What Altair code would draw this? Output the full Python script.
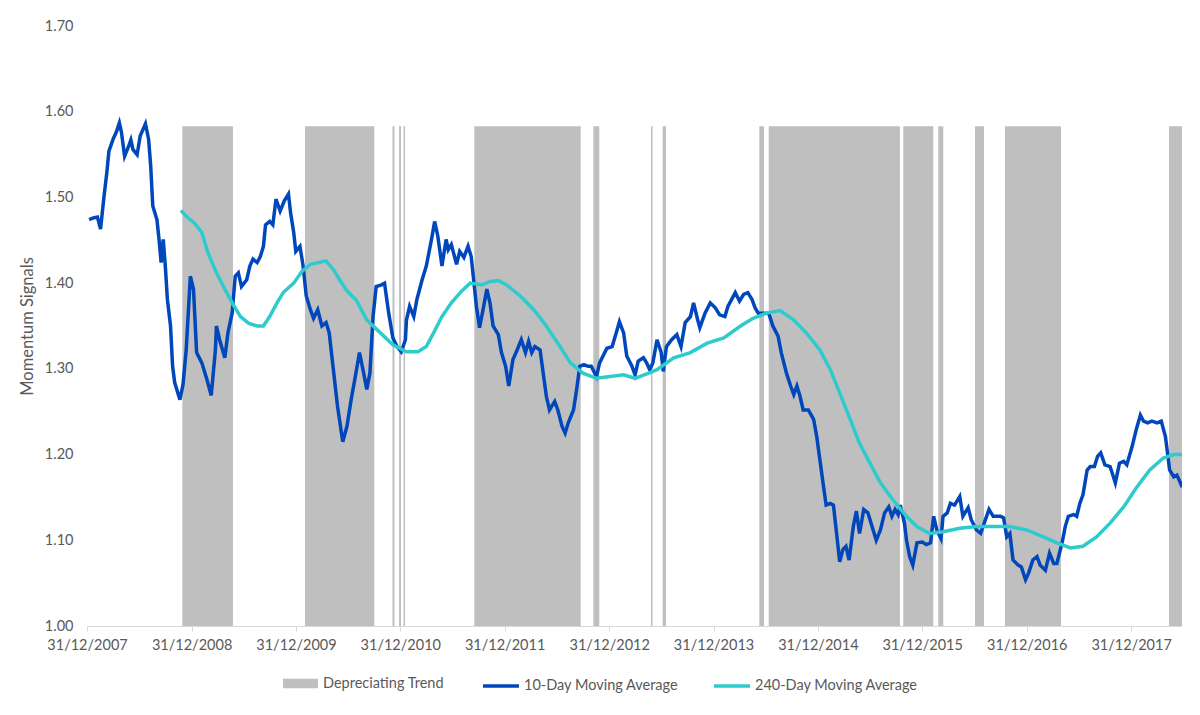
import altair as alt
import pandas as pd

# ---- data (x in decimal years: 2008.0 == 31/12/2007) ----
ma10_t = [2008.02, 2008.06, 2008.10, 2008.13, 2008.16, 2008.19, 2008.21, 2008.25, 2008.28, 2008.31,
          2008.33, 2008.36, 2008.40, 2008.42, 2008.44, 2008.48, 2008.51, 2008.56, 2008.59, 2008.61,
          2008.63, 2008.67, 2008.69, 2008.71, 2008.73, 2008.75, 2008.77, 2008.80, 2008.82, 2008.84,
          2008.89, 2008.92, 2008.95, 2008.99, 2009.02, 2009.05, 2009.10, 2009.15, 2009.19, 2009.23,
          2009.24, 2009.27, 2009.32, 2009.35, 2009.39, 2009.42, 2009.45, 2009.48, 2009.53, 2009.56,
          2009.59, 2009.63, 2009.66, 2009.69, 2009.71, 2009.75, 2009.78, 2009.81, 2009.85, 2009.89,
          2009.93, 2009.95, 2009.98, 2010.00, 2010.04, 2010.07, 2010.10, 2010.14, 2010.17, 2010.21,
          2010.25, 2010.29, 2010.32, 2010.36, 2010.40, 2010.45, 2010.49, 2010.53, 2010.57, 2010.61,
          2010.65, 2010.68, 2010.71, 2010.74, 2010.77, 2010.82, 2010.85, 2010.89, 2010.93, 2010.97,
          2011.01, 2011.05, 2011.06, 2011.09, 2011.13, 2011.16, 2011.21, 2011.25, 2011.30, 2011.33,
          2011.36, 2011.40, 2011.44, 2011.46, 2011.49, 2011.54, 2011.57, 2011.61, 2011.65, 2011.68,
          2011.70, 2011.73, 2011.76, 2011.80, 2011.83, 2011.86, 2011.89, 2011.94, 2011.97, 2012.01,
          2012.04, 2012.08, 2012.12, 2012.16, 2012.20, 2012.23, 2012.26, 2012.29, 2012.34, 2012.37,
          2012.40, 2012.43, 2012.48, 2012.51, 2012.55, 2012.58, 2012.61, 2012.66, 2012.69, 2012.72,
          2012.76, 2012.80, 2012.83, 2012.88, 2012.91, 2012.98, 2013.03, 2013.07, 2013.10, 2013.14,
          2013.17, 2013.22, 2013.25, 2013.28, 2013.33, 2013.36, 2013.39, 2013.42, 2013.46, 2013.50,
          2013.52, 2013.55, 2013.60, 2013.65, 2013.69, 2013.73, 2013.78, 2013.81, 2013.85, 2013.87,
          2013.92, 2013.97, 2014.02, 2014.06, 2014.11, 2014.14, 2014.21, 2014.25, 2014.29, 2014.33,
          2014.37, 2014.40, 2014.43, 2014.48, 2014.53, 2014.57, 2014.62, 2014.65, 2014.70, 2014.74,
          2014.77, 2014.80, 2014.83, 2014.86, 2014.91, 2014.96, 2014.99, 2015.02, 2015.05, 2015.08,
          2015.12, 2015.15, 2015.18, 2015.21, 2015.24, 2015.27, 2015.30, 2015.34, 2015.37, 2015.40,
          2015.44, 2015.48, 2015.52, 2015.56, 2015.60, 2015.64, 2015.68, 2015.71, 2015.74, 2015.77,
          2015.79, 2015.83, 2015.85, 2015.88, 2015.91, 2015.95, 2016.00, 2016.04, 2016.08, 2016.11,
          2016.14, 2016.18, 2016.20, 2016.24, 2016.27, 2016.31, 2016.36, 2016.39, 2016.44, 2016.47,
          2016.52, 2016.56, 2016.60, 2016.64, 2016.68, 2016.75, 2016.78, 2016.81, 2016.84, 2016.87,
          2016.92, 2016.95, 2016.99, 2017.02, 2017.06, 2017.10, 2017.13, 2017.18, 2017.22, 2017.26,
          2017.29, 2017.34, 2017.37, 2017.40, 2017.45, 2017.48, 2017.51, 2017.54, 2017.58, 2017.61,
          2017.65, 2017.68, 2017.71, 2017.75, 2017.80, 2017.85, 2017.89, 2017.93, 2017.96, 2018.01,
          2018.05, 2018.09, 2018.12, 2018.16, 2018.20, 2018.25, 2018.29, 2018.33, 2018.35, 2018.37,
          2018.41, 2018.44, 2018.47, 2018.49]
ma10_v = [1.474, 1.476, 1.477, 1.463, 1.498, 1.529, 1.554, 1.568, 1.576, 1.587,
          1.576, 1.548, 1.560, 1.567, 1.556, 1.550, 1.572, 1.586, 1.568, 1.537,
          1.490, 1.474, 1.451, 1.424, 1.451, 1.420, 1.381, 1.350, 1.303, 1.284,
          1.264, 1.282, 1.322, 1.408, 1.393, 1.319, 1.307, 1.287, 1.269, 1.322,
          1.350, 1.334, 1.313, 1.342, 1.365, 1.408, 1.412, 1.396, 1.404, 1.420,
          1.428, 1.424, 1.431, 1.443, 1.468, 1.472, 1.468, 1.498, 1.484, 1.496,
          1.504, 1.482, 1.459, 1.437, 1.443, 1.420, 1.385, 1.369, 1.359, 1.369,
          1.350, 1.354, 1.342, 1.299, 1.256, 1.215, 1.233, 1.264, 1.291, 1.319,
          1.295, 1.276, 1.295, 1.361, 1.396, 1.398, 1.400, 1.365, 1.336, 1.326,
          1.320, 1.334, 1.357, 1.373, 1.361, 1.381, 1.404, 1.420, 1.451, 1.472,
          1.455, 1.420, 1.451, 1.439, 1.445, 1.422, 1.437, 1.430, 1.443, 1.431,
          1.408, 1.373, 1.348, 1.373, 1.393, 1.377, 1.350, 1.340, 1.319, 1.303,
          1.280, 1.311, 1.322, 1.334, 1.319, 1.332, 1.319, 1.326, 1.322, 1.295,
          1.268, 1.252, 1.262, 1.252, 1.233, 1.225, 1.237, 1.252, 1.276, 1.303,
          1.305, 1.303, 1.303, 1.291, 1.307, 1.324, 1.326, 1.342, 1.355, 1.342,
          1.315, 1.303, 1.293, 1.309, 1.313, 1.307, 1.299, 1.307, 1.334, 1.319,
          1.297, 1.326, 1.334, 1.340, 1.326, 1.354, 1.361, 1.377, 1.357, 1.348,
          1.365, 1.377, 1.371, 1.363, 1.361, 1.373, 1.389, 1.379, 1.387, 1.389,
          1.381, 1.371, 1.365, 1.365, 1.365, 1.350, 1.338, 1.319, 1.295, 1.280,
          1.270, 1.280, 1.268, 1.252, 1.252, 1.241, 1.221, 1.194, 1.167, 1.141,
          1.143, 1.141, 1.108, 1.075, 1.089, 1.093, 1.077, 1.116, 1.134, 1.108,
          1.136, 1.132, 1.116, 1.100, 1.112, 1.132, 1.139, 1.128, 1.136, 1.130,
          1.141, 1.120, 1.100, 1.081, 1.071, 1.097, 1.098, 1.095, 1.097, 1.128,
          1.112, 1.102, 1.128, 1.132, 1.143, 1.141, 1.151, 1.128, 1.138, 1.124,
          1.112, 1.108, 1.122, 1.136, 1.128, 1.128, 1.126, 1.104, 1.108, 1.077,
          1.071, 1.069, 1.054, 1.062, 1.077, 1.081, 1.071, 1.065, 1.085, 1.073,
          1.073, 1.097, 1.116, 1.128, 1.130, 1.128, 1.143, 1.153, 1.182, 1.186,
          1.186, 1.198, 1.202, 1.188, 1.186, 1.167, 1.190, 1.192, 1.188, 1.209,
          1.229, 1.246, 1.239, 1.237, 1.239, 1.237, 1.239, 1.221, 1.202, 1.182,
          1.174, 1.176, 1.168, 1.162]

ma240_t = [2008.90, 2008.95, 2009.03, 2009.10, 2009.16, 2009.24, 2009.32, 2009.40, 2009.47, 2009.55,
           2009.63, 2009.69, 2009.75, 2009.82, 2009.88, 2009.98, 2010.06, 2010.14, 2010.22, 2010.29,
           2010.36, 2010.42, 2010.49, 2010.58, 2010.68, 2010.81, 2010.93, 2011.06, 2011.17, 2011.25,
           2011.32, 2011.40, 2011.49, 2011.59, 2011.67, 2011.78, 2011.86, 2011.94, 2012.02, 2012.15,
           2012.28, 2012.40, 2012.53, 2012.63, 2012.75, 2012.88, 2013.01, 2013.14, 2013.25, 2013.38,
           2013.46, 2013.62, 2013.78, 2013.94, 2014.10, 2014.26, 2014.38, 2014.51, 2014.64, 2014.77,
           2014.89, 2015.02, 2015.12, 2015.21, 2015.31, 2015.40, 2015.50, 2015.60, 2015.72, 2015.85,
           2015.95, 2016.07, 2016.20, 2016.36, 2016.52, 2016.68, 2016.84, 2017.00, 2017.16, 2017.29,
           2017.42, 2017.54, 2017.67, 2017.80, 2017.93, 2018.05, 2018.18, 2018.31, 2018.41, 2018.49]
ma240_v = [1.485, 1.478, 1.470, 1.459, 1.435, 1.412, 1.393, 1.375, 1.361, 1.353,
           1.350, 1.350, 1.361, 1.377, 1.389, 1.400, 1.414, 1.422, 1.424, 1.426,
           1.416, 1.404, 1.391, 1.380, 1.357, 1.342, 1.328, 1.320, 1.320, 1.326,
           1.342, 1.361, 1.377, 1.391, 1.400, 1.398, 1.402, 1.403, 1.398, 1.385,
           1.369, 1.350, 1.326, 1.307, 1.295, 1.289, 1.291, 1.293, 1.289, 1.295,
           1.299, 1.313, 1.319, 1.330, 1.336, 1.350, 1.359, 1.365, 1.368, 1.357,
           1.342, 1.322, 1.299, 1.272, 1.241, 1.213, 1.190, 1.167, 1.147, 1.128,
           1.116, 1.108, 1.110, 1.114, 1.116, 1.116, 1.116, 1.112, 1.104, 1.097,
           1.091, 1.093, 1.104, 1.120, 1.139, 1.161, 1.182, 1.196, 1.200, 1.200]

band_start = [2008.913, 2010.088, 2010.926, 2010.989, 2011.032, 2011.710, 2012.850, 2013.402,
              2013.514, 2014.440, 2014.530, 2015.819, 2016.154, 2016.506, 2016.793, 2018.364]
band_end = [2009.398, 2010.752, 2010.945, 2011.008, 2011.046, 2012.729, 2012.907, 2013.417,
            2013.546, 2014.485, 2015.787, 2016.106, 2016.202, 2016.592, 2017.330, 2018.489]
band_top = 1.583
band_bottom = 1.00

x_ticks = ["31/12/2007", "31/12/2008", "31/12/2009", "31/12/2010", "31/12/2011", "31/12/2012",
           "31/12/2013", "31/12/2014", "31/12/2015", "31/12/2016", "31/12/2017"]
y_ticks = [1.00, 1.10, 1.20, 1.30, 1.40, 1.50, 1.60, 1.70]

series_names = ["10-Day Moving Average", "240-Day Moving Average"]
band_name = "Depreciating Trend"

# ---- helpers ----
BASE = pd.Timestamp("2007-12-31")


def to_date(t):
    d = BASE + pd.to_timedelta((t - 2008.0) * 365.25, unit="D")
    return d.strftime("%Y-%m-%dT%H:%M:%S")


lines_df = pd.DataFrame(
    [{"date": to_date(t), "value": v, "series": series_names[0], "order": 0} for t, v in zip(ma10_t, ma10_v)]
    + [{"date": to_date(t), "value": v, "series": series_names[1], "order": 1} for t, v in zip(ma240_t, ma240_v)]
)
bands_df = pd.DataFrame({
    "start": [to_date(t) for t in band_start],
    "end": [to_date(t) for t in band_end],
    "bottom": [band_bottom] * len(band_start),
    "top": [band_top] * len(band_start),
    "label": [band_name] * len(band_start),
})

tick_dates = []
for s in x_ticks:
    d, m, y = s.split("/")
    tick_dates.append(alt.DateTime(year=int(y), month=int(m), date=int(d)))

end_date = BASE + pd.to_timedelta((band_end[-1] - 2008.0) * 365.25, unit="D")
x_scale = alt.Scale(domain=[alt.DateTime(year=2007, month=12, date=31),
                            alt.DateTime(year=end_date.year, month=end_date.month, date=end_date.day)],
                    nice=False)
y_scale = alt.Scale(domain=[1.0, 1.7], nice=False, zero=False)

FONT = "Lato"
GREY_TXT = "#595959"
FS = 14.5

x_axis = alt.Axis(values=tick_dates, format="%d/%m/%Y", title=None, grid=False,
                  domainColor="#d9d9d9", tickColor="#d9d9d9", tickSize=5, domainWidth=1,
                  labelFont=FONT, labelFontSize=FS, labelColor=GREY_TXT, labelPadding=7,
                  labelOverlap=False, labelFlush=False)
y_axis = alt.Axis(values=y_ticks, format=".2f", title="Momentum  Signals", grid=False,
                  domain=False, ticks=False, labelFont=FONT, labelFontSize=FS, labelColor=GREY_TXT,
                  labelPadding=14, titleFont=FONT, titleFontSize=16.5, titleFontWeight="normal",
                  titleColor=GREY_TXT, titlePadding=9)

rect_path = "M-1,-0.27H1V0.27H-1Z"

bands = alt.Chart(bands_df).mark_rect(strokeWidth=0).encode(
    x=alt.X("start:T", scale=x_scale, axis=x_axis),
    x2="end:T",
    y=alt.Y("bottom:Q", scale=y_scale, axis=y_axis),
    y2="top:Q",
    fill=alt.Fill("label:N", scale=alt.Scale(domain=[band_name], range=["#bfbfbf"]),
                  legend=alt.Legend(title=None, orient="none", legendX=196, legendY=640,
                                    symbolType=rect_path, symbolSize=1225, symbolStrokeWidth=0,
                                    labelFont=FONT, labelFontSize=FS, labelColor=GREY_TXT,
                                    labelOffset=5, labelLimit=400, padding=0)),
)

lines = alt.Chart(lines_df).mark_line(strokeWidth=3.5).encode(
    x=alt.X("date:T", scale=x_scale, axis=x_axis),
    y=alt.Y("value:Q", scale=y_scale, axis=y_axis),
    stroke=alt.Stroke("series:N", scale=alt.Scale(domain=series_names, range=["#0047BB", "#2ECBCC"]),
                      legend=alt.Legend(title=None, orient="none", legendX=394, legendY=640,
                                        direction="horizontal", symbolType="stroke", symbolSize=1300,
                                        symbolStrokeWidth=3.5, labelFont=FONT, labelFontSize=FS,
                                        labelColor=GREY_TXT, labelOffset=3, columnPadding=27,
                                        labelLimit=400, padding=0)),
    detail="order:N",
    order="date:T",
)

chart = alt.layer(bands, lines).properties(
    width=1095, height=600,
    background="white",
    autosize=alt.AutoSizeParams(type="none"),
    padding={"left": 79, "top": 18, "right": 0, "bottom": 70},
).configure_view(stroke="transparent", strokeWidth=0)

chart.save("out.html", embed_options={"renderer": "svg", "actions": False})
